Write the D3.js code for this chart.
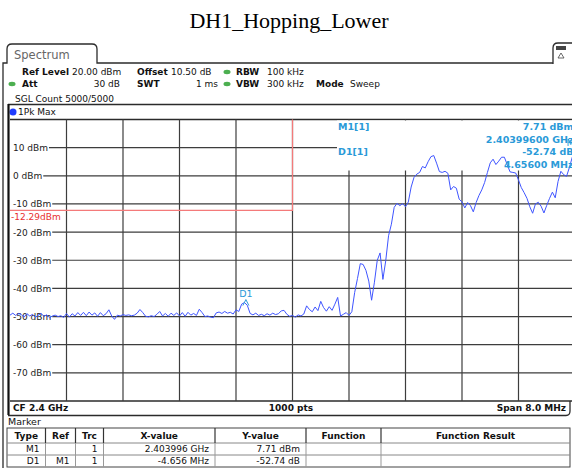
<!DOCTYPE html>
<html>
<head>
<meta charset="utf-8">
<script src="https://cdn.jsdelivr.net/npm/d3@7/dist/d3.min.js"></script>
<style>
  html, body { margin: 0; padding: 0; background: #fff; }
  svg { display: block; font-family: "DejaVu Sans", Verdana, sans-serif; }
</style>
</head>
<body>
<svg id="chart" width="572" height="468"></svg>
<script>
// ---- Instrument settings ----
const titleText = "DH1_Hopping_Lower";
const centerFreqMHz = 2400;
const spanMHz = 8;
const refLevel = 20;          // dBm, top of grid
const bottomLevel = -80;      // dBm, bottom of grid
const levelTicks = [10, 0, -10, -20, -30, -40, -50, -60, -70];
const displayLine = -12.29;   // dBm

// ---- Trace 1 (1Pk Max), 201 samples evenly spaced across the span ----
const traceLevels = [
  -49.5, -48.8, -49.6, -48.9, -49.3, -50.2, -49.0, -49.8, -49.2, -50.3,
  -49.5, -48.9, -49.9, -49.4, -50.4, -49.8, -49.5, -50.0, -49.7, -50.3,
  -48.9, -50.2, -49.0, -49.8, -48.6, -49.6, -48.5, -49.7, -48.4, -49.5,
  -48.7, -49.9, -48.6, -49.7, -49.0, -47.6, -49.8, -51.0, -49.5, -49.8,
  -49.3, -49.6, -49.4, -49.7, -49.5, -48.8, -47.5, -48.6, -49.9, -50.1,
  -49.7, -50.0, -49.2, -48.2, -49.8, -48.9, -49.9, -48.8, -49.6, -48.7,
  -49.8, -48.6, -49.9, -48.5, -49.5, -48.9, -49.6, -47.4, -48.6, -50.0,
  -49.8, -50.2, -50.4, -48.7, -48.4, -48.9, -48.2, -48.8, -48.5, -49.1,
  -47.6, -48.2, -45.6, -45.03, -46.0, -48.9, -49.4, -48.8, -49.6, -49.2,
  -49.7, -49.0, -49.5, -48.8, -49.3, -49.0, -48.0, -47.8, -49.2, -49.9,
  -49.6, -50.2, -49.4, -49.8, -49.1, -46.2, -47.5, -48.3, -46.6, -47.9,
  -44.6, -46.8, -48.1, -46.5, -47.8, -45.6, -43.2, -49.8, -49.2, -48.6,
  -49.6, -48.3, -41.5, -36.5, -31.2, -31.5, -33.6, -37.4, -44.2, -37.8,
  -30.0, -27.4, -36.8, -30.2, -21.3, -17.2, -11.2, -9.8, -10.6, -9.9,
  -11.0, -9.3, -4.0, -0.6, 0.6, 1.2, 3.3, 2.8, 5.0, 6.8,
  7.2, 4.5, 1.5, 1.2, 1.6, 0.9, -5.0, -3.8, -4.4, -8.3,
  -9.3, -11.4, -9.5, -10.6, -12.8, -9.5, -7.0, -5.0, -2.4, 1.2,
  4.6, 5.9, 4.0, 5.2, 6.6, 6.6, 4.0, 1.4, 1.2, 1.0,
  -1.5, -4.2, -6.0, -8.0, -11.0, -13.3, -10.0, -9.4, -10.8, -13.2,
  -10.5, -8.0, -5.8, -7.8, -2.0, 1.6, 0.4, -0.2, 2.9, 6.5,
  7.71
];

// ---- Markers ----
const m1FreqMHz = 2403.996;
const m1Level = 7.71;
const d1OffsetMHz = -4.656;
const d1Delta = -52.74;

// ---- Marker table ----
const tableHeaders = ["Type", "Ref", "Trc", "X-value", "Y-value", "Function", "Function Result"];
const rowType = ["M1", "D1"];
const rowRef = ["", "M1"];
const rowTrc = ["1", "1"];
const rowX = ["2.403996 GHz", "-4.656 MHz"];
const rowY = ["7.71 dBm", "-52.74 dB"];

// ---- Drawing ----
const svg = d3.select("#chart");
const frame = "#2b2b2b";
const gridColor = "#3d3d3d";
const traceColor = "#3f55ff";
const markerColor = "#2a9ad8";
const limitColor = "#f47a7a";

const plot = { left: 10, right: 575, top: 119.5, bottom: 401 };
const x = d3.scaleLinear()
  .domain([centerFreqMHz - spanMHz / 2, centerFreqMHz + spanMHz / 2])
  .range([plot.left, plot.right]);
const y = d3.scaleLinear().domain([bottomLevel, refLevel]).range([plot.bottom, plot.top]);
const step = spanMHz / (traceLevels.length - 1);
const traceFreqs = traceLevels.map((_, i) => x.domain()[0] + i * step);

// Title
svg.append("text").attr("x", 289).attr("y", 28).attr("text-anchor", "middle")
  .attr("font-family", "Liberation Serif, Times New Roman, serif").attr("font-size", 22)
  .attr("fill", "#000").text(titleText);

// Window tab and header frame
svg.append("path")
  .attr("d", "M3,468 L3,63 L7,63 L7,49 Q7,44 12,44 L92,44 Q97,44 97,49 L97,63 L553,63")
  .attr("fill", "none").attr("stroke", frame).attr("stroke-width", 1.3);
svg.append("path")
  .attr("d", "M553,64 L553,48 Q553,43 558,43 L572,43")
  .attr("fill", "none").attr("stroke", frame).attr("stroke-width", 1.3);
svg.append("text").attr("x", 14).attr("y", 59).attr("font-size", 11.5).attr("fill", "#666").text("Spectrum");
// icon inside right tab
svg.append("rect").attr("x", 556).attr("y", 46).attr("width", 10).attr("height", 4).attr("fill", "#444");
svg.append("path").attr("d", "M558,58 L561,53 L564,58 Z").attr("fill", "none").attr("stroke", "#444").attr("stroke-width", 0.8);

// Settings block
const info = svg.append("g").attr("font-size", 9).attr("fill", "#111");
function label(xp, yp, t, bold, anchor) {
  info.append("text").attr("x", xp).attr("y", yp).attr("font-weight", bold ? "bold" : "normal")
    .attr("text-anchor", anchor || "start").attr("fill", "#111").text(t);
}
function led(xp, yp) {
  info.append("ellipse").attr("cx", xp).attr("cy", yp).attr("rx", 3.5).attr("ry", 2.2).attr("fill", "#4caf50");
}
label(22, 75, "Ref Level", true);
label(72, 75, "20.00 dBm");
label(137, 75, "Offset", true);
label(171, 75, "10.50 dB");
led(227, 72);
label(236, 75, "RBW", true);
label(267, 75, "100 kHz");
led(12, 84);
label(22, 87, "Att", true);
label(120, 87, "30 dB", false, "end");
label(137, 87, "SWT", true);
label(218, 87, "1 ms", false, "end");
led(227, 84);
label(236, 87, "VBW", true);
label(267, 87, "300 kHz");
label(316, 87, "Mode", true);
label(350, 87, "Sweep");
label(15, 102, "SGL Count 5000/5000");

// Trace header box
svg.append("line").attr("x1", 8).attr("x2", 572).attr("y1", 104.5).attr("y2", 104.5).attr("stroke", frame).attr("stroke-width", 1.3);
svg.append("circle").attr("cx", 13).attr("cy", 112).attr("r", 3.5).attr("fill", "#1f3cff");
svg.append("text").attr("x", 18).attr("y", 115).attr("font-size", 9).attr("fill", "#111").text("1Pk Max");

// Plot frame
svg.append("line").attr("x1", plot.left).attr("x2", 572).attr("y1", plot.top).attr("y2", plot.top).attr("stroke", frame).attr("stroke-width", 1.3);
svg.append("line").attr("x1", plot.left).attr("x2", 572).attr("y1", plot.bottom).attr("y2", plot.bottom).attr("stroke", frame).attr("stroke-width", 1.3);
svg.append("line").attr("x1", 8.5).attr("x2", 8.5).attr("y1", 104).attr("y2", 415).attr("stroke", "#111").attr("stroke-width", 2.2);

// Vertical grid
const vTicks = d3.range(1, 10).map(k => x.domain()[0] + k * spanMHz / 10);
svg.append("g").selectAll("line").data(vTicks).join("line")
  .attr("x1", d => x(d)).attr("x2", d => x(d)).attr("y1", plot.top).attr("y2", plot.bottom)
  .attr("stroke", gridColor).attr("stroke-width", 1.2);

// Horizontal grid with level labels
const hg = svg.append("g");
levelTicks.forEach(v => {
  const t = hg.append("text").attr("x", 13).attr("y", y(v) + 3.5).attr("font-size", 9).attr("fill", "#222").text(v + " dBm");
  const w = t.node().getComputedTextLength();
  hg.insert("line", "text").attr("x1", 13 + w + 1).attr("x2", plot.right).attr("y1", y(v)).attr("y2", y(v))
    .attr("stroke", gridColor).attr("stroke-width", 1.2);
});

// Display line and center line
svg.append("path")
  .attr("d", `M${plot.left},${y(displayLine)} L${x(centerFreqMHz)},${y(displayLine)} L${x(centerFreqMHz)},${plot.top}`)
  .attr("fill", "none").attr("stroke", limitColor).attr("stroke-width", 1.2);
svg.append("text").attr("x", 11).attr("y", y(displayLine) + 10).attr("font-size", 9).attr("fill", "#e8302f")
  .text(displayLine.toFixed(2) + "dBm");

// Marker readout panel (blanks the grid beneath it)
svg.append("rect").attr("x", 337).attr("y", plot.top + 1).attr("width", 240).attr("height", 50).attr("fill", "#fff");

// Trace
const line = d3.line().x((d, i) => x(traceFreqs[i])).y(d => y(d));
svg.append("path").datum(traceLevels).attr("d", line)
  .attr("fill", "none").attr("stroke", traceColor).attr("stroke-width", 1);

// Marker readouts
const mk = svg.append("g").attr("font-size", 9.5).attr("font-weight", "bold").attr("fill", markerColor);
mk.append("text").attr("x", 338).attr("y", 130).text("M1[1]");
mk.append("text").attr("x", 338).attr("y", 155).text("D1[1]");
mk.append("text").attr("x", 573.5).attr("y", 130).attr("text-anchor", "end").text(m1Level.toFixed(2) + " dBm");
mk.append("text").attr("x", 573.5).attr("y", 142.5).attr("text-anchor", "end").text((m1FreqMHz / 1000).toFixed(8) + " GHz");
mk.append("text").attr("x", 573.5).attr("y", 155).attr("text-anchor", "end").text(d1Delta.toFixed(2) + " dB");
mk.append("text").attr("x", 573.5).attr("y", 167.5).attr("text-anchor", "end").text(Math.abs(d1OffsetMHz).toFixed(5) + " MHz");

// Marker symbols on the trace
const d1Freq = m1FreqMHz + d1OffsetMHz;
const d1Level = m1Level + d1Delta;
svg.append("text").attr("x", x(d1Freq)).attr("y", y(d1Level) - 6).attr("text-anchor", "middle")
  .attr("font-size", 9.5).attr("fill", markerColor).text("D1");
svg.append("path")
  .attr("d", `M${x(d1Freq) - 3},${y(d1Level) + 3} L${x(d1Freq)},${y(d1Level) - 3} L${x(d1Freq) + 3},${y(d1Level) + 3}`)
  .attr("fill", "none").attr("stroke", markerColor).attr("stroke-width", 1);
svg.append("text").attr("x", x(m1FreqMHz) - 1).attr("y", y(m1Level) - 8).attr("text-anchor", "middle")
  .attr("font-size", 9.5).attr("fill", markerColor).text("M1");

// Status bar below the grid
svg.append("path").attr("d", "M8,415.5 L566,415.5 Q570,415.5 570,411 L570,401")
  .attr("fill", "none").attr("stroke", frame).attr("stroke-width", 1.3);
const sb = svg.append("g").attr("font-size", 9).attr("font-weight", "bold").attr("fill", "#111");
sb.append("text").attr("x", 13).attr("y", 411).text("CF " + (centerFreqMHz / 1000) + " GHz");
sb.append("text").attr("x", 291).attr("y", 411).attr("text-anchor", "middle").text("1000 pts");
sb.append("text").attr("x", 566).attr("y", 411).attr("text-anchor", "end").text("Span " + spanMHz.toFixed(1) + " MHz");

// Marker table
svg.append("text").attr("x", 8).attr("y", 425).attr("font-size", 9.5).attr("fill", "#111").text("Marker");
const colEdges = [7, 45.5, 75.5, 103.5, 215, 306, 381, 570];
const tTop = 428, hBottom = 443, r1Bottom = 455, r2Bottom = 467;
const tb = svg.append("g");
tb.append("rect").attr("x", colEdges[0]).attr("y", tTop).attr("width", colEdges[7] - colEdges[0]).attr("height", r2Bottom - tTop)
  .attr("fill", "none").attr("stroke", "#444").attr("stroke-width", 1);
[hBottom, r1Bottom].forEach(yy => tb.append("line").attr("x1", colEdges[0]).attr("x2", colEdges[7]).attr("y1", yy).attr("y2", yy)
  .attr("stroke", "#888").attr("stroke-width", 1));
colEdges.slice(1, 7).forEach(cx => {
  tb.append("line").attr("x1", cx).attr("x2", cx).attr("y1", tTop).attr("y2", hBottom).attr("stroke", "#333").attr("stroke-width", 1.2);
  tb.append("line").attr("x1", cx).attr("x2", cx).attr("y1", hBottom).attr("y2", r2Bottom).attr("stroke", "#999").attr("stroke-width", 1);
});
tableHeaders.forEach((h, i) => {
  tb.append("text").attr("x", (colEdges[i] + colEdges[i + 1]) / 2).attr("y", 439).attr("text-anchor", "middle")
    .attr("font-size", 9).attr("font-weight", "bold").attr("fill", "#111").text(h);
});
const cols = [rowType, rowRef, rowTrc, rowX, rowY];
rowType.forEach((_, r) => {
  const yy = r === 0 ? 452 : 464;
  cols.forEach((col, c) => {
    tb.append("text").attr("x", colEdges[c + 1] - 6).attr("y", yy).attr("text-anchor", "end")
      .attr("font-size", 9).attr("fill", "#111").text(col[r]);
  });
});
</script>
</body>
</html>
